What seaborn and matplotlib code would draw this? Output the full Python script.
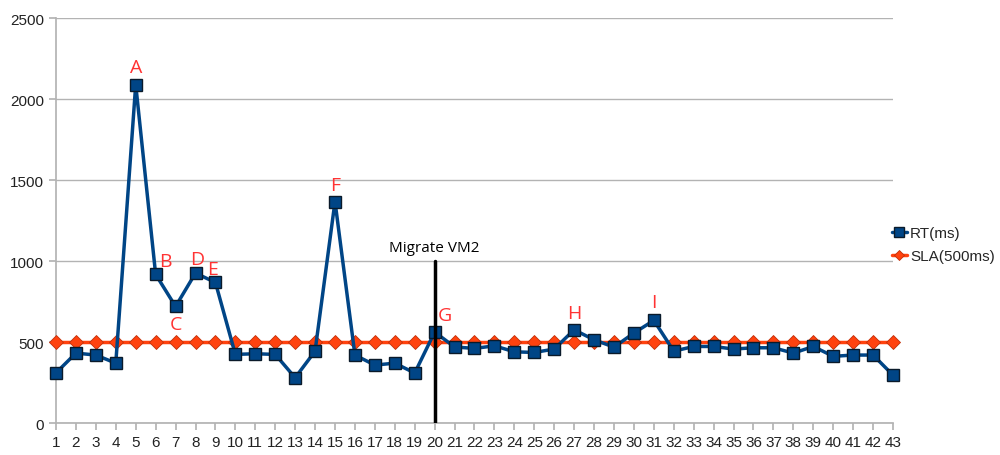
import pandas as pd
import matplotlib.pyplot as plt
import seaborn as sns

# sample index 1..43
samples = list(range(1, 44))

rt_ms = [310, 432, 420, 370, 2090, 918, 720, 926, 868, 424,
         428, 424, 280, 444, 1368, 420, 358, 370, 309, 562,
         470, 461, 477, 440, 436, 457, 576, 514, 469, 556,
         634, 444, 473, 473, 457, 465, 465, 432, 473, 412,
         420, 420, 296]
sla_ms = [500] * 43

# annotation letters: (label, x, y)
marks = [("A", 5, 2200), ("B", 6.5, 1000), ("C", 7, 610), ("D", 8.1, 1010),
         ("E", 8.85, 950), ("F", 15, 1470), ("G", 20.5, 665), ("H", 27, 680),
         ("I", 31, 750)]

df = pd.DataFrame({"x": samples, "RT(ms)": rt_ms, "SLA(500ms)": sla_ms})

sns.set_theme(style="white")
plt.rcParams["font.family"] = ["Liberation Sans", "DejaVu Sans"]

fig = plt.figure(figsize=(10, 4.56), dpi=100)
ax = fig.add_axes([0.056, 0.070, 0.837, 0.888])

sns.lineplot(data=df, x="x", y="SLA(500ms)", ax=ax, color="#ff420e",
             linewidth=2.5, marker="D", markersize=7, markeredgecolor="#c0300a",
             markeredgewidth=0.6, label="SLA(500ms)", zorder=3, clip_on=False)
sns.lineplot(data=df, x="x", y="RT(ms)", ax=ax, color="#004586",
             linewidth=2.5, marker="s", markersize=9, markeredgecolor="#0a1a2a",
             markeredgewidth=1.0, label="RT(ms)", zorder=4, clip_on=False)

# migration marker
ax.plot([20, 20], [0, 1000], color="black", linewidth=2.5, zorder=5)
ax.text(20, 1040, "Migrate VM2", ha="center", va="bottom", fontsize=11,
        family=["Open Sans", "DejaVu Sans"], color="black")

for lab, x, y in marks:
    ax.text(x, y, lab, ha="center", va="center", fontsize=14, color="#ff3333",
            family=["Open Sans", "DejaVu Sans"])

ax.set_xlim(1, 43)
ax.set_ylim(0, 2500)
ax.set_xticks(samples)
ax.set_yticks(range(0, 2501, 500))
ax.set_xlabel("")
ax.set_ylabel("")
ax.grid(axis="y", color="#b3b3b3", linewidth=1)
ax.set_axisbelow(True)
for side in ["top", "right"]:
    ax.spines[side].set_visible(False)
for side in ["left", "bottom"]:
    ax.spines[side].set_color("#b3b3b3")
ax.tick_params(axis="both", labelsize=11, colors="#b3b3b3", labelcolor="#222222",
               length=5, direction="out", bottom=True, left=True)

handles, labels = ax.get_legend_handles_labels()
order = [labels.index("RT(ms)"), labels.index("SLA(500ms)")]
ax.legend([handles[i] for i in order], [labels[i] for i in order],
          loc="center left", bbox_to_anchor=(0.982, 0.44), frameon=False,
          fontsize=11, handlelength=1.0, handletextpad=0.2, labelspacing=0.6,
          markerscale=0.8)

fig.savefig("out.png", dpi=100)
